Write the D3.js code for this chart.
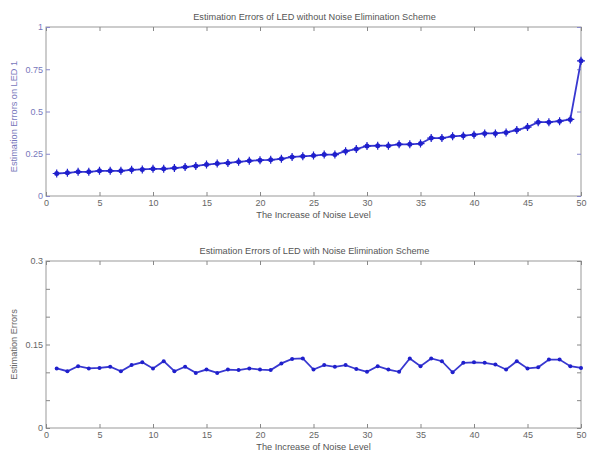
<!DOCTYPE html>
<html>
<head>
<meta charset="utf-8">
<title>Estimation Errors of LED</title>
<script src="https://d3js.org/d3.v7.min.js"></script>
<style>
  body { margin: 0; background: #fff; }
  svg { display: block; font-family: "Liberation Sans", Arial, sans-serif; }
  .axis path, .axis line { stroke: #888; }
  .axis text { fill: #666; font-size: 9px; }
  .blue path, .blue line { stroke: #8888cc; }
  .blue text { fill: #7777bb; }
  .ttl { fill: #555; font-size: 9.2px; }
</style>
</head>
<body>
<svg id="chart" width="593" height="460"></svg>
<script>
// noise levels 1..50
var levels = [1,2,3,4,5,6,7,8,9,10,11,12,13,14,15,16,17,18,19,20,21,22,23,24,25,
              26,27,28,29,30,31,32,33,34,35,36,37,38,39,40,41,42,43,44,45,46,47,48,49,50];

// errors without noise elimination
var errWithout = [0.133,0.137,0.143,0.143,0.149,0.149,0.149,0.155,0.157,0.161,
                  0.161,0.165,0.171,0.178,0.186,0.192,0.196,0.202,0.208,0.212,
                  0.214,0.220,0.231,0.235,0.239,0.245,0.245,0.265,0.278,0.296,
                  0.298,0.298,0.306,0.306,0.310,0.343,0.343,0.353,0.357,0.363,
                  0.370,0.370,0.376,0.390,0.408,0.437,0.437,0.443,0.453,0.800];

// errors with noise elimination
var errWith = [0.107,0.102,0.111,0.107,0.108,0.110,0.102,0.113,0.118,0.107,
               0.120,0.102,0.110,0.099,0.105,0.099,0.105,0.104,0.107,0.105,
               0.104,0.116,0.124,0.125,0.105,0.113,0.110,0.113,0.106,0.101,
               0.111,0.105,0.101,0.125,0.111,0.125,0.120,0.100,0.117,0.118,
               0.117,0.114,0.105,0.120,0.107,0.109,0.123,0.123,0.111,0.108];

var xTicks = [0,5,10,15,20,25,30,35,40,45,50];
var topYTicks = [0,0.25,0.5,0.75,1];
var botYTicks = [0,0.05,0.1,0.15,0.2,0.25,0.3];
var botYLabels = [0,0.15,0.3];

var svg = d3.select("#chart");
var left = 46, right = 581;

var x = d3.scaleLinear().domain([0,50]).range([left,right]);

function panel(cfg) {
  var y = d3.scaleLinear().domain(cfg.domain).range([cfg.bottom, cfg.top]);
  var g = svg.append("g");

  // box
  g.append("rect")
    .attr("x", left).attr("y", cfg.top)
    .attr("width", right - left).attr("height", cfg.bottom - cfg.top)
    .attr("fill", "none").attr("stroke", "#999");

  // axes, matlab style ticks inside
  g.append("g").attr("class", "axis")
    .attr("transform", "translate(0," + cfg.bottom + ")")
    .call(d3.axisBottom(x).tickValues(xTicks).tickSize(-4).tickPadding(4).tickFormat(d3.format("d")));
  g.append("g").attr("class", "axis")
    .attr("transform", "translate(0," + cfg.top + ")")
    .call(d3.axisTop(x).tickValues(xTicks).tickSize(-4).tickFormat(""));

  g.append("g").attr("class", "axis " + (cfg.blue ? "blue" : ""))
    .attr("transform", "translate(" + left + ",0)")
    .call(d3.axisLeft(y).tickValues(cfg.yTicks).tickSize(-4).tickPadding(3)
      .tickFormat(function (d) { return cfg.yLabels.indexOf(d) >= 0 ? d3.format("")(d) : ""; }));
  g.append("g").attr("class", "axis " + (cfg.blue ? "blue" : ""))
    .attr("transform", "translate(" + right + ",0)")
    .call(d3.axisRight(y).tickValues(cfg.yTicks).tickSize(-4).tickFormat(""));
  g.selectAll(".axis .domain").remove();

  // titles
  g.append("text").attr("class", "ttl")
    .attr("x", (left + right) / 2 + 1).attr("y", cfg.top - 7)
    .attr("text-anchor", "middle").text(cfg.title);
  g.append("text").attr("class", "ttl")
    .attr("x", (left + right) / 2).attr("y", cfg.bottom + 22)
    .attr("text-anchor", "middle").text("The Increase of Noise Level");
  g.append("text").attr("class", "ttl")
    .attr("transform", "translate(17," + ((cfg.top + cfg.bottom) / 2 + cfg.yShift) + ") rotate(-90)")
    .attr("text-anchor", "middle")
    .style("fill", cfg.blue ? "#7777bb" : "#666")
    .text(cfg.ylabel);

  var pts = levels.map(function (l, i) { return [l, cfg.values[i]]; });
  var line = d3.line().x(function (d) { return x(d[0]); }).y(function (d) { return y(d[1]); });

  g.append("path").datum(pts)
    .attr("fill", "none").attr("stroke", "#3838d0").attr("stroke-width", 1.8)
    .attr("d", line);

  var m = g.selectAll(".m").data(pts).enter().append("g")
    .attr("transform", function (d) { return "translate(" + x(d[0]) + "," + y(d[1]) + ")"; });
  m.append("circle").attr("r", cfg.star ? 2.5 : 2).attr("fill", "#1f1fcc");
  if (cfg.star) {
    m.append("path").attr("d", "M-4,0H4M0,-4V4")
      .attr("stroke", "#1f1fcc").attr("stroke-width", 1.2);
  }
}

panel({
  top: 27, bottom: 196, domain: [0,1],
  yTicks: topYTicks, yLabels: topYTicks,
  values: errWithout, star: true, blue: true, yShift: 5,
  title: "Estimation Errors of LED without Noise Elimination Scheme",
  ylabel: "Estimation Errors on LED 1"
});

panel({
  top: 261, bottom: 428, domain: [0,0.3],
  yTicks: botYTicks, yLabels: botYLabels,
  values: errWith, star: false, blue: false, yShift: 0,
  title: "Estimation Errors of LED with Noise Elimination Scheme",
  ylabel: "Estimation Errors"
});
</script>
</body>
</html>
